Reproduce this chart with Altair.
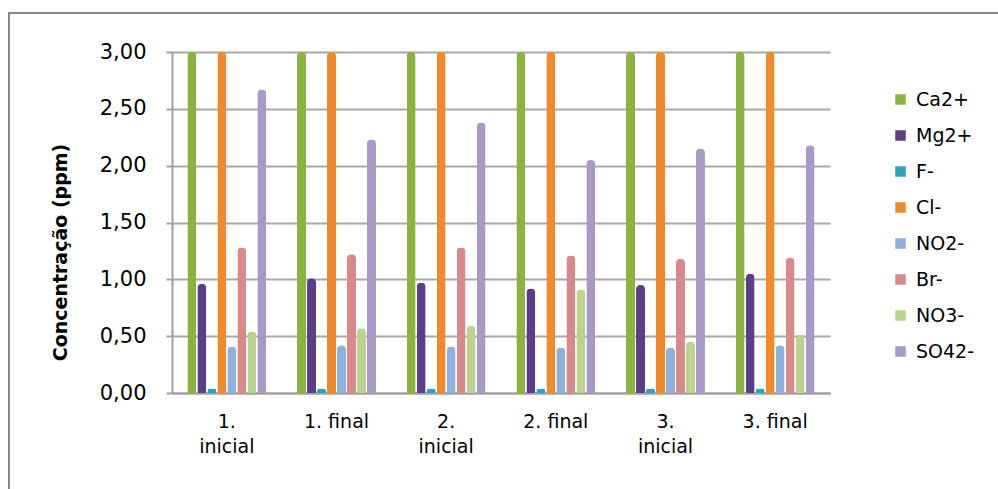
import altair as alt
import pandas as pd

categories = ["1. inicial", "1. final", "2. inicial", "2. final", "3. inicial", "3. final"]
series = ["Ca2+", "Mg2+", "F-", "Cl-", "NO2-", "Br-", "NO3-", "SO42-"]
colors = ["#8AB33F", "#5C3D8A", "#2DA2BF", "#F28A2C", "#8FB0DD", "#D88A8A", "#BCD38E", "#A899C8"]

ca2 = [3.00, 3.00, 3.00, 3.00, 3.00, 3.00]
mg2 = [0.96, 1.01, 0.97, 0.92, 0.95, 1.05]
f_ = [0.04, 0.04, 0.04, 0.04, 0.04, 0.04]
cl_ = [3.00, 3.00, 3.00, 3.00, 3.00, 3.00]
no2 = [0.41, 0.42, 0.41, 0.40, 0.40, 0.42]
br_ = [1.28, 1.22, 1.28, 1.21, 1.18, 1.19]
no3 = [0.54, 0.57, 0.59, 0.91, 0.45, 0.51]
so4 = [2.67, 2.23, 2.38, 2.05, 2.15, 2.18]

values = [ca2, mg2, f_, cl_, no2, br_, no3, so4]
rows = []
for s, vals in zip(series, values):
    for c, v in zip(categories, vals):
        rows.append({"Amostra": c, "Ion": s, "Valor": v})
df = pd.DataFrame(rows)

FONT = "DejaVu Sans"

bars = alt.Chart(df).mark_bar(
    cornerRadiusTopLeft=4, cornerRadiusTopRight=4
).encode(
    x=alt.X("Amostra:N", sort=categories,
            scale=alt.Scale(paddingInner=0.28, paddingOuter=0.14),
            axis=alt.Axis(title=None, labelAngle=0, labelFontSize=19, labelFont=FONT,
                          labelColor="#000000", labelPadding=19, ticks=False,
                          domain=True, domainColor="#A0A0A0", domainWidth=2,
                          labelBaseline="top", labelLineHeight=25,
                          labelExpr="indexof(datum.label, 'inicial') >= 0 ? [split(datum.label, ' ')[0], 'inicial'] : datum.label")),
    xOffset=alt.XOffset("Ion:N", sort=series, scale=alt.Scale(paddingInner=0.1)),
    y=alt.Y("Valor:Q", scale=alt.Scale(domain=[0, 3], nice=False),
            axis=alt.Axis(title="Concentração (ppm)", values=[0, 0.5, 1, 1.5, 2, 2.5, 3],
                          labelExpr="replace(format(datum.value, '.2f'), '.', ',')",
                          labelFontSize=21, labelFont=FONT, labelColor="#000000",
                          labelPadding=20, tickSize=6, tickColor="#A0A0A0", tickWidth=2,
                          domainColor="#A0A0A0", domainWidth=2,
                          grid=True, gridColor="#A8A8A8", gridWidth=2,
                          titleFont=FONT, titleFontSize=19, titleFontWeight="bold",
                          titleColor="#000000", titleX=-112, titleY=200,
                          titleAngle=-90, titleAlign="center", titleBaseline="middle")),
    color=alt.Color("Ion:N", sort=series,
                    scale=alt.Scale(domain=series, range=colors),
                    legend=alt.Legend(title=None, orient="none", legendX=719, legendY=38,
                                      symbolType="square", symbolSize=110,
                                      symbolStrokeWidth=0, labelFontSize=19,
                                      labelFont=FONT, labelColor="#000000",
                                      rowPadding=16, labelOffset=6)),
)

frame = alt.Chart(pd.DataFrame({"k": [0]})).mark_rect(
    fill=None, stroke="#888888", strokeWidth=2
).encode(
    x=alt.value(-163), x2=alt.value(900), y=alt.value(-39), y2=alt.value(500)
)

chart = alt.layer(frame, bars).properties(
    width=658, height=341,
    autosize=alt.AutoSizeParams(type="none"),
    padding={"left": 172, "top": 52, "right": 168, "bottom": 96},
    background="white",
).configure_view(stroke=None)

chart.save("out.html", embed_options={"renderer": "svg", "actions": False})
